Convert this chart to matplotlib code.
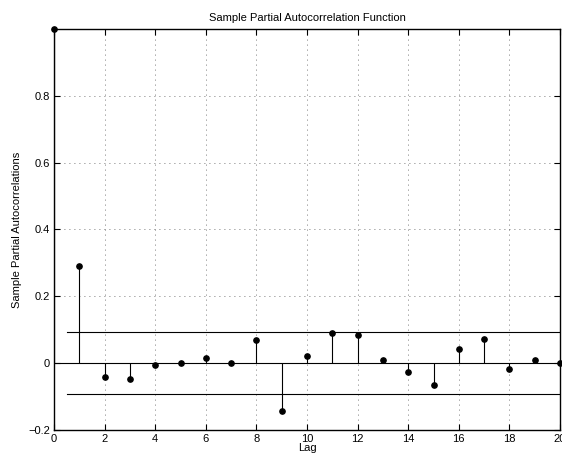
import matplotlib
matplotlib.use("Agg")
import matplotlib.pyplot as plt
import numpy as np

lags = list(range(21))
pacf = [1.0, 0.29, -0.042, -0.047, -0.004, 0.0, 0.014, 0.0, 0.069, -0.142,
        0.021, 0.09, 0.085, 0.01, -0.026, -0.066, 0.042, 0.072, -0.018, 0.01,
        0.001]
bound = 0.093
yticks = [-0.2, 0, 0.2, 0.4, 0.6, 0.8]
ytick_labels = ["\u22120.2", "0", "0.2", "0.4", "0.6", "0.8"]
xticks = list(range(0, 21, 2))

plt.rcParams["font.family"] = ["Liberation Sans", "DejaVu Sans"]
plt.rcParams["font.size"] = 8

fig = plt.figure(figsize=(5.62, 4.57), dpi=100)
ax = fig.add_axes([54 / 562, 27 / 457, 506 / 562, 401 / 457])

ax.vlines(lags, 0, pacf, color="black", lw=0.8)
ax.plot(lags, pacf, "o", color="black", ms=3.8, clip_on=False, zorder=5)
ax.plot([0, 20], [0, 0], color="black", lw=0.8)
ax.plot([0.5, 20], [bound, bound], color="black", lw=0.8)
ax.plot([0.5, 20], [-bound, -bound], color="black", lw=0.8)

ax.set_xlim(0, 20)
ax.set_ylim(-0.2, 1.0)
ax.set_xticks(xticks)
ax.set_yticks(yticks)
ax.set_yticklabels(ytick_labels)
ax.grid(True, linestyle=(0, (1, 5)), color="black", lw=0.6, alpha=0.7)
ax.tick_params(direction="in", top=True, right=True, length=4, width=0.8, pad=3)
for s in ax.spines.values():
    s.set_linewidth(1.0)

ax.set_title("Sample Partial Autocorrelation Function", fontsize=8, pad=6)
ax.set_xlabel("Lag", labelpad=-1)
ax.set_ylabel("Sample Partial Autocorrelations", labelpad=4)

fig.savefig("out.png", dpi=100)
